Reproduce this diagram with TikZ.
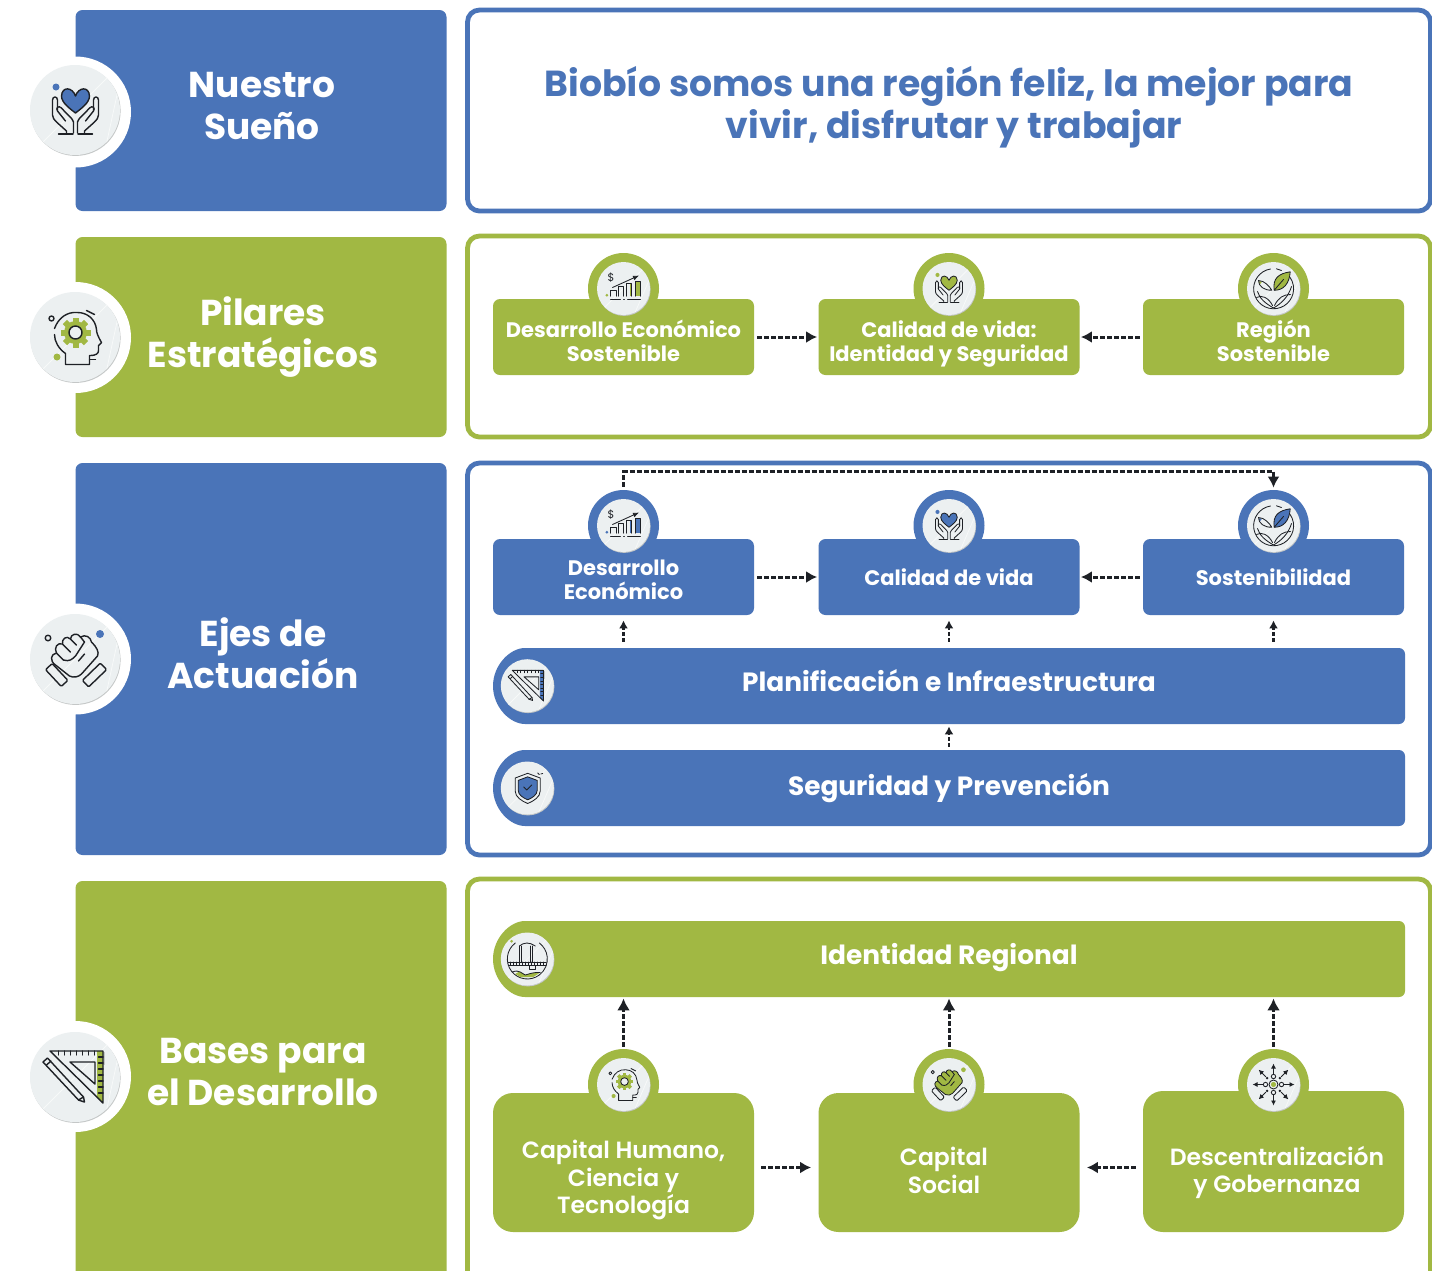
\documentclass[tikz,border=0pt]{standalone}
\usepackage{fontspec}
\setmainfont{Poppins}[BoldFont={* Bold}]
\newfontfamily\semifont{Poppins SemiBold}
\usetikzlibrary{arrows.meta,shapes.misc}
\definecolor{bluec}{HTML}{4A74B8}
\definecolor{greenc}{HTML}{A1B843}
\definecolor{inkc}{HTML}{1E2126}
\definecolor{badgec}{HTML}{ECF0F1}
\definecolor{rimc}{HTML}{C4C7C7}
\tikzset{
  leftbox/.style={rectangle, rounded corners=3.5pt, minimum width=185.5pt, inner sep=0pt},
  rightbox/.style={rectangle, rounded corners=6pt, draw=#1, line width=2.4pt, fill=white, minimum width=481.5pt, inner sep=0pt},
  whitedisc/.style={circle, fill=white, minimum size=55.5pt, inner sep=0pt},
  colordisc/.style={circle, fill=#1, minimum size=35.5pt, inner sep=0pt},
  badge/.style={circle, fill=badgec, minimum size=#1, inner sep=0pt,
    preaction={fill=rimc, transform canvas={xshift=.3pt,yshift=-.45pt}},
    path picture={\draw[white!60!badgec, line width=.4pt] (path picture bounding box.south west) -- (path picture bounding box.north east)
      ([xshift=-8pt]path picture bounding box.south east) -- ([yshift=-8pt]path picture bounding box.north east);}},
  bigbadge/.style={badge=45pt},
  smallbadge/.style={badge=26.5pt},
  smallbox/.style={rectangle, fill=#1, rounded corners=3.5pt, minimum width=130.5pt, minimum height=38pt, inner sep=0pt},
  basebox/.style={rectangle, fill=greenc, rounded corners=10pt, minimum width=130.5pt, inner sep=0pt},
  pillbox/.style={rounded rectangle, rounded rectangle east arc=none, rounded corners=3pt, fill=#1, minimum width=456pt, minimum height=38pt, inner sep=0pt},
  titletext/.style={text=white, font=\bfseries\fontsize{18}{21}\selectfont, align=center},
  boxtext/.style={text=white, font=\bfseries\fontsize{10.5}{12}\selectfont, align=center},
  pilltext/.style={text=white, font=\bfseries\fontsize{13.2}{15}\selectfont, align=center},
  basetext/.style={text=white, font=\semifont\fontsize{11.75}{13.8}\selectfont, align=center},
  flow/.style={draw=inkc, line width=1.5pt, dash pattern=on 2.5pt off 1pt, -{Latex[length=5.5pt,width=6pt]}},
  thinflow/.style={draw=inkc, line width=1.1pt, dash pattern=on 2pt off 1pt, -{Latex[length=4pt,width=4.5pt]}},
  bigflow/.style={draw=inkc, line width=1.5pt, dash pattern=on 2.5pt off 1pt, -{Latex[length=6pt,width=6.5pt]}},
  ink/.style={draw=inkc, line width=.7pt, line cap=round, line join=round},
  thinico/.style={ink/.style={draw=inkc, line width=.42pt, line cap=round, line join=round}},
  smallico/.style={scale=.59, thinico},
  % icons, drawn around their centre
  pics/heartico/.style={code={
    \fill[#1] (-19.5,-23) circle (3.5);
    \draw[ink, fill=#1] (0,-14) .. controls (-3,-23) and (-13.5,-24) .. (-14,-14) .. controls (-14,-7) and (-5,-1) .. (0,3) .. controls (5,-1) and (14,-7) .. (14,-14) .. controls (13.5,-24) and (3,-23) .. (0,-14) -- cycle;
    \foreach \s in {1,-1} {
      \begin{scope}[xscale=\s]
        \draw[ink] (-18,0) -- (-18,-10) .. controls (-18,-14) and (-23,-14) .. (-23,-10) -- (-23,5) .. controls (-23,8) and (-21,10) .. (-19,12) -- (-9,21) -- (-9,23);
        \draw[ink] (-2,23) -- (-2,12) .. controls (-3,8) and (-8,5) .. (-14,-2) .. controls (-17,-5) and (-20,-2) .. (-18,1) -- (-10,11);
        \draw[ink] (-17,24) -- (-2.5,24);
      \end{scope}
    }
  }},
  pics/headico/.style={code={
    \fill[#1] (-18.5,19.5) circle (3.5);
    \draw[ink] (-24,-19) circle (2.5);
    \draw[ink] (11,-27) -- (19,-23);
    \foreach \a in {0,45,...,315}
      \fill[#1, shift={(0,-5)}, rotate=\a] (-3,-15) rectangle (3,-9);
    \fill[#1] (0,-5) circle (11.5);
    \draw[ink, fill=badgec] (0,-5) circle (6.5);
    \draw[ink] (-21,-9) .. controls (-17,-20) and (-8,-26) .. (2,-25) .. controls (12,-25) and (20,-18) .. (21,-8) .. controls (21,-5) and (22,-2) .. (26,5) -- (23,8) -- (23,13) .. controls (23,16) and (21,18) .. (14,18) -- (14,27) -- (-10,27) -- (-10,16) .. controls (-17,11) and (-21,4) .. (-21,-3);
    \draw[ink] (14,22) -- (20,22);
  }},
  pics/handico/.style 2 args={code={
    \fill[#1] (24.5,-25) circle (4);
    \draw[ink] (-27.5,-21) circle (2.8);
    \draw[ink, fill=#2] (-20,6) .. controls (-26,2) and (-25,-5) .. (-19,-6) .. controls (-22,-11) and (-18,-17) .. (-13,-15) .. controls (-14,-20) and (-9,-24) .. (-5,-20) .. controls (-5,-25) and (2,-27) .. (5,-22) .. controls (10,-25) and (15,-22) .. (16,-17) .. controls (21,-12) and (24,-7) .. (22,-3) -- (6,15) .. controls (3,18) and (-2,19) .. (-6,17) -- cycle;
    \draw[ink] (-19,-6) -- (-12,1) (-13,-15) -- (-5,-7) (-5,-20) -- (1,-14) (5,-22) -- (9,-17);
    \draw[ink] (-12,1) .. controls (-6,3) and (-3,0) .. (0,-3) -- (9,-17) (9,-5) -- (3,2);
    \draw[ink, rounded corners=.6pt, fill=badgec, shift={(-18.8,16)}, rotate=-47] (-11.5,-4.5) rectangle (11.5,4.5);
    \draw[ink, rounded corners=.6pt, fill=badgec, shift={(19,16)}, rotate=44] (-12.5,-4.5) rectangle (12.5,4.5);
  }},
  pics/rulerico/.style={code={
    \fill[rimc] (27.5,-25) rectangle (29.5,-12);
    \fill[#1] (21.5,-26) -- (27.5,-26) -- (27.5,26) -- (21.5,20) -- cycle;
    \draw[ink] (-25.5,-26) -- (27.5,-26) -- (27.5,26) -- cycle;
    \draw[ink] (-5.5,-15) -- (19.5,-15) -- (19.5,7) -- cycle;
    \foreach \t in {-17,-11,...,19} \draw[ink] (\t,-26) -- (\t,-22);
    \foreach \t in {-20,-14,...,16} \draw[ink] (27.5,\t) -- (23,\t);
    \draw[ink] (-32.5,-15) -- (-28,-19) -- (8,20) -- (9,25) -- (3,23) -- cycle;
    \draw[ink] (-29,-12) -- (-24.5,-16) (3,23) -- (8,20);
  }},
  pics/chartico/.style={code={
    \node (dollar) at (-12.5,-11) [text=inkc, font=\fontsize{5.5}{6}\selectfont] {\$};
    \fill[#1] (-16.7,6.7) circle (1.5);
    \fill[#1] (11.7,-6.7) rectangle (16.7,7.7);
    \fill[#1] (6,-5) rectangle (8.3,7.7);
    \draw[ink] (-12.7,7.7) -- (-12.7,1.7) -- (-7.3,1.7) -- (-7.3,7.7);
    \draw[ink] (-5,7.7) -- (-5,-1.7) -- (0,-1.7) -- (0,7.7);
    \draw[ink] (3.3,7.7) -- (3.3,-5) -- (8.3,-5) -- (8.3,7.7);
    \draw[ink] (11.7,7.7) -- (11.7,-6.7) -- (16.7,-6.7) -- (16.7,7.7);
    \draw[ink, -{Latex[length=3pt,width=2.5pt]}] (-11,-1) -- (15.5,-13);
    \draw[ink] (-13,11) -- (-3,11) (0,11) -- (1,11) (4,11) -- (17,11);
  }},
  pics/leafico/.style={code={
    \fill[#1] (-13.3,-6) circle (1.5);
    \draw[ink] (-3,-19.5) arc (261:-35:20);
    \draw[ink] (3,-19.7) -- (8,-18);
    \draw[ink, fill=#1] (0.7,1.7) .. controls (-1,-10) and (5,-15) .. (16.7,-16.7) .. controls (16,-5) and (10,2) .. (0.7,1.7) -- cycle;
    \draw[ink] (0.7,1.7) -- (10,-9);
    \draw[ink] (-1.7,1.7) .. controls (-4,-2) and (-9,-8) .. (-15,-8) .. controls (-15,-2) and (-9,2) .. (-1.7,1.7) -- cycle;
    \draw[ink] (-16,3) .. controls (-14,10) and (-8,15) .. (0,19.5) .. controls (8,15) and (15,8) .. (18,-2);
    \draw[ink] (-17,9) .. controls (-12,6) and (-5,9) .. (-1,17) (17,6) .. controls (10,6) and (5,9) .. (1,17);
  }},
  pics/shieldico/.style={code={
    \draw[ink, fill=badgec] (0,-14.7) -- (12.5,-10) -- (12.5,3) .. controls (12.5,9) and (6,13) .. (0,15.5) .. controls (-6,13) and (-12.5,9) .. (-12.5,3) -- (-12.5,-10) -- cycle;
    \draw[ink, fill=#1, scale=.76] (0,-14.7) -- (12.5,-10) -- (12.5,3) .. controls (12.5,9) and (6,13) .. (0,15.5) .. controls (-6,13) and (-12.5,9) .. (-12.5,3) -- (-12.5,-10) -- cycle;
    \draw[ink] (-4,-1) -- (-1,2) -- (4,-3);
    \draw[ink] (10,-15) -- (11.5,-13.5) (13,-14) -- (15,-14.5);
  }},
  pics/bridgeico/.style={code={
    \fill[#1] (-15.7,-17.7) circle (1.5);
    \draw[ink] (-12,-16) arc (233:-53:20);
    \draw[ink] (-8,3) -- (-8,-13) (-5.5,3) -- (-5.5,-13) (3,3) -- (3,-13) (5.5,3) -- (5.5,-13);
    \draw[ink] (-8,-13) .. controls (-3,-17) and (2,-17) .. (8,-13);
    \draw[ink] (-19,3) -- (19,3) (-19,6) -- (19,6);
    \foreach \t in {-17,-14,...,18} \draw[ink] (\t,3) -- (\t,6);
    \draw[ink] (2,6) rectangle (8,10);
    \fill[#1] (-12,15) .. controls (-8,11) and (-5,14) .. (-2,16) .. controls (2,15) and (6,13) .. (12,14) -- (6,18) -- (-7,18) -- cycle;
    \draw[ink] (-15,13) .. controls (-8,10) and (-5,15) .. (-2,16) .. controls (2,15) and (6,13) .. (13,13.5);
  }},
  pics/netico/.style={code={
    \draw[ink] (0,0) circle (4.5);
    \fill[#1] (0,0) circle (2.6);
    \foreach \a in {0,90,180,270} {
      \draw[ink] (\a:8) circle (2.2);
      \draw[ink, -{Latex[length=2.5pt,width=2.5pt]}] (\a:10.5) -- (\a:21);
    }
    \foreach \a in {45,135,225,315} {
      \fill[inkc] (\a:9) circle (1.3);
      \draw[ink, -{Latex[length=2.5pt,width=2.5pt]}] (\a:11) -- (\a:21);
    }
  }}
}
\begin{document}
\begin{tikzpicture}[x=.5pt, y=-.5pt]
  \clip (0,0) rectangle (1432,1271);
  \fill[white] (0,0) rectangle (1432,1271);

  % left column
  \node (suenobox) at (261,110.5) [leftbox, fill=bluec, minimum height=100.5pt] {};
  \node (pilarbox) at (261,337) [leftbox, fill=greenc, minimum height=100pt] {};
  \node (ejesbox) at (261,659) [leftbox, fill=bluec, minimum height=196pt] {};
  \node (basesbox) at (261,1081) [leftbox, fill=greenc, minimum height=200pt] {};

  \node (suenodisc) at (75.5,112) [whitedisc] {};
  \node (pilardisc) at (75.5,337.5) [whitedisc] {};
  \node (ejesdisc) at (75.5,659) [whitedisc] {};
  \node (basesdisc) at (75.5,1076.5) [whitedisc] {};

  \node (suenobadge) at (75,110) [bigbadge] {};
  \node (pilarbadge) at (75,337) [bigbadge] {};
  \node (ejesbadge) at (75,659) [bigbadge] {};
  \node (basesbadge) at (75,1077) [bigbadge] {};

  \pic at (75.5,110) {heartico=bluec};
  \pic at (75.5,337.5) {headico=greenc};
  \pic at (75.5,659) {handico={bluec}{none}};
  \pic at (75.5,1077) {rulerico=greenc};

  \node (suenotxt) at (262,106) [titletext] {Nuestro\\Sueño};
  \node (pilartxt) at (263,337) [titletext] {Pilares\\Estratégicos};
  \node (ejestxt) at (263,653) [titletext] {Ejes de\\Actuación};
  \node (basestxt) at (263,1072) [titletext] {Bases para\\el Desarrollo};

  % right column
  \node (suenopanel) at (949,110.5) [rightbox=bluec, minimum height=100.5pt] {};
  \node (pilarpanel) at (949,336.5) [rightbox=greenc, minimum height=100.5pt] {};
  \node (ejespanel) at (949,659) [rightbox=bluec, minimum height=196pt] {};
  \node (basespanel) at (949,1085) [rightbox=greenc, minimum height=206pt] {};

  \node (suenolema) at (949,107) [text=bluec, font=\bfseries\fontsize{18.1}{21}\selectfont, align=center] {Biobío somos una región feliz, la mejor para\\\hspace*{5pt}vivir, disfrutar y trabajar};

  % pilares
  \foreach \nm/\xx in {pa/623.5, pb/949, pc/1273.5} {
    \node (\nm disc) at (\xx,288.5) [colordisc=greenc] {};
    \node (\nm box) at (\xx,337) [smallbox=greenc] {};
    \node (\nm badge) at (\xx,288.5) [smallbadge] {};
  }
  \pic[thinico] at (623.5,288.5) {chartico=greenc};
  \pic[smallico] at (949,288.5) {heartico=greenc};
  \pic[thinico] at (1273.5,288.5) {leafico=greenc};
  \node (patxt) at (623.5,341) [boxtext] {Desarrollo Económico\\Sostenible};
  \node (pbtxt) at (949,343.5) [boxtext] {Calidad de vida:\\Identidad y Seguridad};
  \node (pctxt) at (1273.5,341) [boxtext] {Región\\Sostenible};
  \draw[flow, shorten <=1.5pt, shorten >=.5pt] (pabox.east) -- (pbbox.west);
  \draw[flow, shorten <=1.5pt, shorten >=.5pt] (pcbox.west) -- (pbbox.east);

  % ejes
  \foreach \nm/\xx in {ea/623.5, eb/949, ec/1273.5} {
    \node (\nm disc) at (\xx,525.5) [colordisc=bluec] {};
    \node (\nm box) at (\xx,577) [smallbox=bluec] {};
    \node (\nm badge) at (\xx,525.5) [smallbadge] {};
  }
  \pic[thinico] at (623.5,525.5) {chartico=bluec};
  \pic[smallico] at (949,525.5) {heartico=bluec};
  \pic[thinico] at (1273.5,525.5) {leafico=bluec};
  \node (eatxt) at (623.5,579.5) [boxtext] {Desarrollo\\Económico};
  \node (ebtxt) at (949,577) [boxtext] {Calidad de vida};
  \node (ectxt) at (1273.5,577) [boxtext] {Sostenibilidad};
  \draw[flow, shorten <=1.5pt, shorten >=.5pt] (eabox.east) -- (ebbox.west);
  \draw[flow, shorten <=1.5pt, shorten >=.5pt] (ecbox.west) -- (ebbox.east);
  \draw[flow, line width=1.2pt, shorten <=1.5pt, shorten >=1pt] (eadisc.north) -- ++(0,-18) -| (ecdisc.north);

  \node (planbar) at (949,686) [pillbox=bluec] {};
  \node (planbadge) at (527.3,685.7) [smallbadge] {};
  \pic[smallico] at (527.3,685.7) {rulerico=bluec};
  \node (plantxt) at (949,681) [pilltext] {Planificación e Infraestructura};
  \node (segbar) at (949,788) [pillbox=bluec] {};
  \node (segbadge) at (527.3,788) [smallbadge] {};
  \pic[thinico] at (527.7,788) {shieldico=bluec};
  \node (segtxt) at (949,788) [pilltext] {Seguridad y Prevención};
  \draw[thinflow, shorten <=3pt, shorten >=2.5pt] (planbar.north -| eabox.south) -- (eabox.south);
  \draw[thinflow, shorten <=3pt, shorten >=2.5pt] (planbar.north -| ebbox.south) -- (ebbox.south);
  \draw[thinflow, shorten <=3pt, shorten >=2.5pt] (planbar.north -| ecbox.south) -- (ecbox.south);
  \draw[thinflow, shorten <=1.5pt, shorten >=1pt] (segbar.north) -- (planbar.south);

  % bases
  \node (idbar) at (949,959) [pillbox=greenc] {};
  \node (idbadge) at (527.3,959) [smallbadge] {};
  \pic[thinico] at (527.3,959) {bridgeico=greenc};
  \node (idtxt) at (949,958) [pilltext] {Identidad Regional};

  \foreach \nm/\xx/\yy/\hh in {ba/623.5/1162.5/69.5pt, bb/949/1162.5/69.5pt, bc/1273.5/1161.5/70.5pt} {
    \node (\nm disc) at (\xx,1084.5) [colordisc=greenc] {};
    \node (\nm box) at (\xx,\yy) [basebox, minimum height=\hh] {};
    \node (\nm badge) at (\xx,1084.5) [smallbadge] {};
  }
  \pic[smallico] at (624.5,1084.5) {headico=greenc};
  \pic[smallico] at (949,1084.5) {handico={greenc}{greenc}};
  \pic[thinico] at (1273.5,1084.5) {netico=greenc};
  \node (batxt) at (623.5,1180) [basetext] {Capital Humano,\\Ciencia y\\Tecnología};
  \node (bbtxt) at (944,1170.5) [basetext] {Capital\\Social};
  \node (bctxt) at (1277,1172.5) [basetext] {Descentralización\\y Gobernanza};
  \draw[flow, shorten <=3.5pt, shorten >=3.5pt] (babox.east |- 0,1167.5) -- (bbbox.west |- 0,1167.5);
  \draw[flow, shorten <=3.5pt, shorten >=3.5pt] (bcbox.west |- 0,1167.5) -- (bbbox.east |- 0,1167.5);
  \draw[bigflow, shorten <=1pt, shorten >=.5pt] (badisc.north) -- (idbar.south -| badisc.north);
  \draw[bigflow, shorten <=1pt, shorten >=.5pt] (bbdisc.north) -- (idbar.south);
  \draw[bigflow, shorten <=1pt, shorten >=.5pt] (bcdisc.north) -- (idbar.south -| bcdisc.north);
\end{tikzpicture}
\end{document}
